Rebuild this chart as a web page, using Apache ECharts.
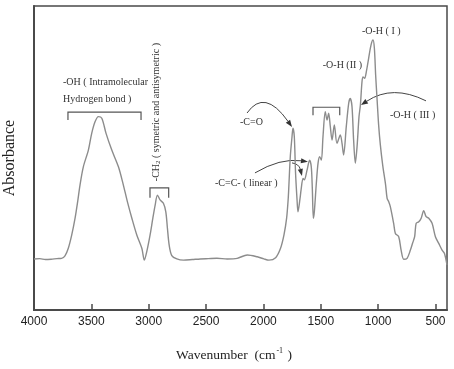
<!DOCTYPE html>
<html>
<head>
<meta charset="utf-8">
<script src="https://cdn.jsdelivr.net/npm/echarts@6/dist/echarts.min.js"></script>
<style>
  html, body { margin: 0; padding: 0; background: #fff; }
  #chart { width: 454px; height: 369px; }
</style>
</head>
<body>
<div id="chart"></div>
<script>
// ---- data ----
const wavenumbers = [
  4000, 3950, 3900, 3850, 3800, 3760, 3730, 3701, 3671, 3642, 3620, 3599, 3570, 3526, 3497, 3468,
  3439, 3409, 3372, 3322, 3264, 3221, 3185, 3147, 3104, 3060, 3038, 3017, 2988, 2964, 2944, 2924,
  2901, 2872, 2851, 2837, 2822, 2799, 2755, 2697, 2620, 2551, 2480, 2406, 2316, 2229, 2141, 2054,
  1996, 1952, 1894, 1851, 1821, 1798, 1784, 1778, 1766, 1751, 1743, 1731, 1720, 1707, 1699, 1681,
  1672, 1655, 1644, 1620, 1598, 1583, 1574, 1565, 1556, 1539, 1524, 1510, 1495, 1481, 1461, 1446,
  1432, 1417, 1402, 1382, 1359, 1330, 1315, 1301, 1278, 1257, 1243, 1228, 1214, 1199, 1184, 1167,
  1155, 1141, 1132, 1118, 1103, 1083, 1062, 1045, 1033, 1022, 1010, 996, 981, 960, 935, 922,
  908, 894, 865, 850, 821, 800, 777, 748, 719, 699, 682, 669, 646, 625, 603, 582,
  559, 530, 501, 472, 443, 422, 400
];
const absorbance = [
  16.8, 16.9, 16.6, 16.7, 16.9, 17.0, 17.8, 20.3, 24.7, 30.2, 35.5, 41.1, 47.1, 52.6, 58.1, 61.9,
  63.6, 63.1, 58.1, 52.6, 47.1, 41.1, 35.5, 30.2, 24.7, 20.3, 16.4, 19.2, 24.7, 30.2, 34.5, 37.8,
  36.2, 35.1, 32.3, 26.9, 21.4, 17.9, 16.8, 16.4, 16.6, 16.8, 16.9, 17.0, 16.8, 17.0, 18.1, 17.5,
  16.8, 16.4, 17.2, 20.3, 24.7, 30.2, 36.7, 41.1, 50.4, 57.0, 59.8, 57.0, 45.0, 36.2, 32.3, 36.7,
  39.5, 43.3, 42.8, 46.0, 49.3, 47.1, 40.0, 30.2, 32.5, 41.7, 48.3, 50.4, 49.3, 57.0, 65.2, 62.5,
  64.7, 60.3, 55.9, 60.9, 54.8, 57.6, 54.8, 51.0, 60.3, 68.0, 69.6, 66.9, 55.9, 48.3, 53.7, 63.6,
  67.4, 75.1, 76.7, 76.2, 78.4, 82.8, 87.2, 88.8, 86.1, 77.3, 69.6, 60.9, 54.3, 47.5, 41.1, 36.7,
  35.6, 34.0, 28.5, 25.2, 24.1, 19.7, 16.7, 17.0, 19.7, 22.1, 24.1, 28.5, 29.0, 30.2, 32.7, 30.7,
  30.2, 28.5, 24.1, 21.9, 19.7, 18.6, 14.8
];
const xTickLabels = [4000, 3500, 3000, 2500, 2000, 1500, 1000, 500];

// ---- annotation content (anchored in data coordinates) ----
const labelTexts = [
  { text: '-OH ( Intramolecular', at: [3747, 75.0] },
  { text: 'Hydrogen bond )', at: [3747, 69.4] },
  { text: '-C=O', at: [2204, 61.6] },
  { text: '-C=C- ( linear )', at: [2422, 41.7] },
  { text: '-O-H (II )', at: [1483, 80.6] },
  { text: '-O-H ( I )', at: [1141, 91.5] },
  { text: '-O-H ( III )', at: [897, 64.1] }
];
const brackets = [
  { from: 3704, to: 3067, top: 65.1, foot: 62.5 },
  { from: 2989, to: 2826, top: 40.2, foot: 36.9 },
  { from: 1568, to: 1335, top: 66.7, foot: 64.1 }
];
const arrows = [
  { s: [2143, 64.8], c: [1991, 73.0], e: [1751, 60.2] },
  { s: [2074, 45.1], c: [1856, 50.0], e: [1612, 48.8] },
  { s: [1751, 48.4], c: [1690, 48.0], e: [1664, 44.1] },
  { s: [583, 68.8], c: [875, 74.3], e: [1150, 67.4] }
];
const ch2Label = { at: [2936, 65.1] };

const SERIF = '"Liberation Serif", "Times New Roman", serif';
const chart = echarts.init(document.getElementById('chart'), null, { renderer: 'canvas' });

const seriesData = wavenumbers.map((w, i) => [w, absorbance[i]]);

chart.setOption({
  animation: false,
  backgroundColor: '#ffffff',
  grid: {
    left: 34, right: 7, top: 6, bottom: 59,
    outerBoundsMode: 'none', containLabel: false,
    show: true, borderColor: '#4a4a4a', borderWidth: 1.5, backgroundColor: 'transparent'
  },
  xAxis: {
    type: 'value', min: 400, max: 4000, inverse: true,
    axisLine: { show: true, lineStyle: { color: '#4a4a4a', width: 2 } },
    axisTick: { show: true, inside: true, length: 6, lineStyle: { color: '#4a4a4a', width: 1.5 },
                customValues: xTickLabels },
    axisLabel: { show: true, customValues: xTickLabels, margin: 6,
                 formatter: v => String(v),
                 fontFamily: '"Liberation Sans", Arial, sans-serif', fontSize: 12, color: '#222' },
    splitLine: { show: false },
    name: '{a|Wavenumber  (cm}{s|-1}{a| )}',
    nameLocation: 'middle', nameGap: 37,
    nameTextStyle: {
      padding: [0, 13, 0, 0],
      rich: {
        a: { fontFamily: SERIF, fontSize: 13.5, color: '#222' },
        s: { fontFamily: SERIF, fontSize: 8, color: '#222', padding: [0, 1, 9, 1] }
      }
    }
  },
  yAxis: {
    type: 'value', min: 0, max: 100,
    axisLine: { show: true, lineStyle: { color: '#4a4a4a', width: 2 } },
    axisTick: { show: false },
    axisLabel: { show: false },
    splitLine: { show: false },
    name: 'Absorbance', nameLocation: 'middle', nameRotate: 90, nameGap: 16,
    nameTextStyle: { fontFamily: SERIF, fontSize: 16, color: '#222' }
  },
  series: [{
    type: 'line',
    data: seriesData,
    showSymbol: false,
    smooth: 0.3,
    lineStyle: { color: '#8c8c8c', width: 1.4 },
    silent: true
  }]
});

function px(p) { return chart.convertToPixel({ xAxisIndex: 0, yAxisIndex: 0 }, p); }

const graphics = [];
labelTexts.forEach(t => {
  const p = px(t.at);
  graphics.push({
    type: 'text', x: p[0], y: p[1], silent: true,
    style: { text: t.text, font: '10px ' + SERIF, fill: '#333', align: 'left', verticalAlign: 'middle' }
  });
});
{
  const p = px(ch2Label.at);
  graphics.push({
    type: 'text', x: p[0], y: p[1], rotation: Math.PI / 2, silent: true,
    style: {
      text: '{a|-CH}{s|2}{a| ( symetric and antisymetric )}',
      align: 'center', verticalAlign: 'middle',
      rich: {
        a: { fontFamily: SERIF, fontSize: 10, fill: '#333' },
        s: { fontFamily: SERIF, fontSize: 7, fill: '#333', padding: [4, 0, 0, 0] }
      }
    }
  });
}
brackets.forEach(b => {
  const a = px([b.from, b.foot]), c = px([b.from, b.top]), d = px([b.to, b.top]), e = px([b.to, b.foot]);
  graphics.push({
    type: 'polyline', silent: true,
    shape: { points: [a, c, d, e] },
    style: { stroke: '#555', lineWidth: 1.2, fill: null }
  });
});
arrows.forEach(ar => {
  const s = px(ar.s), c = px(ar.c), e = px(ar.e);
  let dx = e[0] - c[0], dy = e[1] - c[1];
  const len = Math.hypot(dx, dy) || 1; dx /= len; dy /= len;
  const L = 7, W = 2.6;
  const bx = e[0] - dx * L, by = e[1] - dy * L;
  graphics.push({
    type: 'bezierCurve', silent: true,
    shape: { x1: s[0], y1: s[1], cpx1: c[0], cpy1: c[1], x2: bx, y2: by },
    style: { stroke: '#444', lineWidth: 1, fill: null }
  });
  graphics.push({
    type: 'polygon', silent: true,
    shape: { points: [e, [bx - dy * W, by + dx * W], [bx + dy * W, by - dx * W]] },
    style: { fill: '#333' }
  });
});
chart.setOption({ graphic: graphics });
</script>
</body>
</html>
